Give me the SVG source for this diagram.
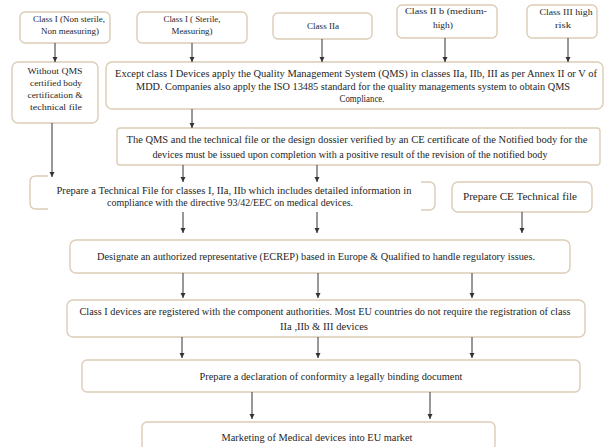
<svg xmlns="http://www.w3.org/2000/svg" width="605" height="447" viewBox="0 0 605 447">
<style>
.box{fill:#ffffff;stroke:#dccdb6;stroke-width:1.4}
.br{fill:none;stroke:#dccdb6;stroke-width:1.4}
.t{font-family:"Liberation Serif","Times New Roman",serif;fill:#262626;text-anchor:middle}
.s{font-size:9px}
.m{font-size:11px}
.l{font-size:10px}
.c{stroke:#333;stroke-width:1;fill:none;marker-end:url(#ah)}
</style>
<defs>
<marker id="ah" markerWidth="6" markerHeight="6" refX="5" refY="3" orient="auto" markerUnits="userSpaceOnUse">
<path d="M0,0.5 L5,3 L0,5.5 Z" fill="#333"/>
</marker>
</defs>
<rect width="605" height="447" fill="#ffffff"/>

<g id="n1"><rect class="box" x="20" y="12" width="90" height="31" rx="5"/>
<text class="t s" x="69" y="22" textLength="72" lengthAdjust="spacingAndGlyphs">Class I (Non sterile,</text><text class="t s" x="70" y="34" textLength="58" lengthAdjust="spacingAndGlyphs">Non measuring)</text></g>
<g id="n2"><rect class="box" x="137" y="12" width="110" height="31" rx="5"/>
<text class="t s" x="192" y="22" textLength="57" lengthAdjust="spacingAndGlyphs">Class I ( Sterile,</text><text class="t s" x="192" y="34" textLength="41" lengthAdjust="spacingAndGlyphs">Measuring)</text></g>
<g id="n3"><rect class="box" x="273" y="13" width="99" height="26" rx="5"/>
<text class="t s" x="323" y="29" textLength="32" lengthAdjust="spacingAndGlyphs">Class IIa</text></g>
<g id="n4"><rect class="box" x="397" y="5" width="100" height="33" rx="5"/>
<text class="t s" x="446" y="14" textLength="82" lengthAdjust="spacingAndGlyphs">Class II b (medium-</text><text class="t s" x="443" y="28" textLength="20" lengthAdjust="spacingAndGlyphs">high)</text></g>
<g id="n5"><rect class="box" x="527" y="5" width="70" height="33" rx="5"/>
<text class="t s" x="566" y="15" textLength="53" lengthAdjust="spacingAndGlyphs">Class III high</text><text class="t s" x="563" y="28" textLength="16" lengthAdjust="spacingAndGlyphs">risk</text></g>

<g id="n6"><rect class="box" x="12" y="62" width="86" height="61" rx="6"/>
<text class="t s" x="55" y="74" textLength="55" lengthAdjust="spacingAndGlyphs">Without QMS</text><text class="t s" x="56" y="86" textLength="52" lengthAdjust="spacingAndGlyphs">certified body</text>
<text class="t s" x="55" y="98" textLength="55" lengthAdjust="spacingAndGlyphs">certification &amp;</text><text class="t s" x="56" y="110" textLength="52" lengthAdjust="spacingAndGlyphs">technical file</text></g>

<g id="n7"><rect class="box" x="106" y="62" width="497" height="47" rx="6"/>
<text class="t l" x="356" y="77" textLength="482" lengthAdjust="spacingAndGlyphs">Except class I Devices apply the Quality Management System (QMS) in classes IIa, IIb, III as per Annex II or V of</text>
<text class="t m" x="353" y="90" textLength="434" lengthAdjust="spacingAndGlyphs">MDD. Companies also apply the ISO 13485 standard for the quality managements system to obtain  QMS</text>
<text class="t m" x="362" y="102" textLength="45" lengthAdjust="spacingAndGlyphs">Compliance.</text></g>

<g id="n8"><rect class="box" x="117" y="128" width="483" height="37" rx="3"/>
<text class="t l" x="357" y="143" textLength="461" lengthAdjust="spacingAndGlyphs">The QMS and the technical file or the design dossier verified by an CE certificate of the Notified body for the</text>
<text class="t m" x="350" y="158" textLength="395" lengthAdjust="spacingAndGlyphs">devices must be issued upon completion with a positive result of the revision of the notified body</text></g>

<g id="n9"><path class="br" d="M48,176 L36,176 Q30,176 30,182 L30,203 Q30,209 36,209 L48,209"/>
<path class="br" d="M421,182 L429,182 Q435,182 435,188 L435,204 Q435,210 429,210 L421,210"/>
<text class="t m" x="234" y="194" textLength="355" lengthAdjust="spacingAndGlyphs">Prepare a Technical File for classes I, IIa, IIb which includes detailed information in</text>
<text class="t m" x="230" y="206" textLength="246" lengthAdjust="spacingAndGlyphs">compliance with the directive 93/42/EEC on medical devices.</text></g>

<g id="n10"><rect class="box" x="452" y="182" width="140" height="30" rx="6"/>
<text class="t m" x="520" y="200" textLength="114" lengthAdjust="spacingAndGlyphs">Prepare CE Technical file</text></g>

<g id="n11"><rect class="box" x="70" y="240" width="500" height="33" rx="6"/>
<text class="t m" x="316" y="260" textLength="438" lengthAdjust="spacingAndGlyphs">Designate an authorized representative (ECREP) based in Europe &amp; Qualified to handle regulatory issues.</text></g>

<g id="n12"><rect class="box" x="67" y="300" width="518" height="37" rx="6"/>
<text class="t l" x="325" y="315" textLength="491" lengthAdjust="spacingAndGlyphs">Class I devices are registered with the component authorities. Most EU countries do not require the registration of class</text>
<text class="t m" x="324" y="330" textLength="88" lengthAdjust="spacingAndGlyphs">IIa ,IIb &amp; III devices</text></g>

<g id="n13"><rect class="box" x="82" y="360" width="498" height="32" rx="5"/>
<text class="t m" x="331" y="380" textLength="263" lengthAdjust="spacingAndGlyphs">Prepare a declaration of conformity a legally binding document</text></g>

<g id="n14"><rect class="box" x="142" y="422" width="353" height="40" rx="5"/>
<text class="t m" x="317" y="441" textLength="191" lengthAdjust="spacingAndGlyphs">Marketing of Medical devices into EU market</text></g>

<g id="connectors">
<line class="c" x1="55" y1="43" x2="55" y2="62"/>
<line class="c" x1="192" y1="43" x2="192" y2="62"/>
<line class="c" x1="322" y1="39" x2="322" y2="62"/>
<line class="c" x1="445" y1="38" x2="445" y2="62"/>
<line class="c" x1="568" y1="38" x2="568" y2="62"/>
<line class="c" x1="52" y1="123" x2="52" y2="177"/>
<line class="c" x1="192" y1="109" x2="192" y2="128"/>
<line class="c" x1="183" y1="165" x2="183" y2="182"/>
<line class="c" x1="317" y1="165" x2="317" y2="182"/>
<line class="c" x1="183" y1="212" x2="183" y2="233"/>
<line class="c" x1="317" y1="212" x2="317" y2="233"/>
<line class="c" x1="522" y1="212" x2="522" y2="233"/>
<line class="c" x1="183" y1="273" x2="183" y2="298"/>
<line class="c" x1="318" y1="273" x2="318" y2="298"/>
<line class="c" x1="472" y1="273" x2="472" y2="298"/>
<line class="c" x1="182" y1="337" x2="182" y2="358"/>
<line class="c" x1="318" y1="337" x2="318" y2="358"/>
<line class="c" x1="472" y1="337" x2="472" y2="358"/>
<line class="c" x1="252" y1="392" x2="252" y2="419"/>
<line class="c" x1="430" y1="392" x2="430" y2="419"/>
</g>
</svg>
